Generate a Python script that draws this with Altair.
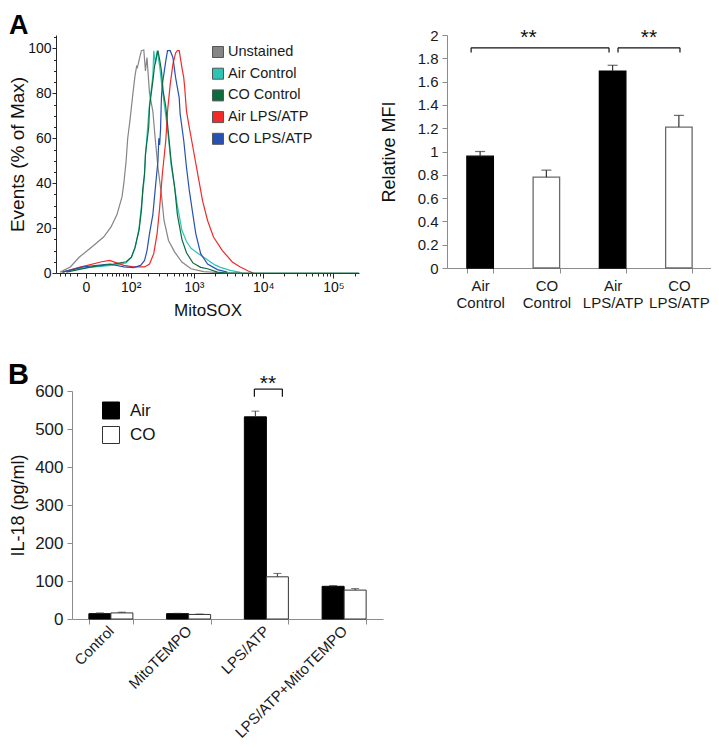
import altair as alt
import pandas as pd

FONT = "Liberation Sans"

# ---------------- Panel A (left): MitoSOX flow histograms ----------------
hist_names = ["Unstained", "Air Control", "CO Control", "Air LPS/ATP", "CO LPS/ATP"]
hist_colors = ["#858585", "#2CC5B5", "#0E6B3E", "#F22A2A", "#2651B3"]

unstained_x = [-40, -20, -7.5, 6, 23.5, 38, 53, 68, 74, 82, 88, 97, 110, 120, 128, 132, 145, 155, 170, 181, 192,
               211, 239, 262, 288, 326, 358, 419, 520, 667, 910, 1390, 2430, 5000]
unstained_y = [0.4, 2.7, 7, 11.5, 16, 20.4, 26, 34, 40, 50, 60, 68, 80, 88, 92, 91.5, 96, 99, 99.3, 90, 96,
               80, 72, 59, 47, 35, 23.4, 14.5, 9.3, 4.9, 1.9, 0.6, 0.1, 0]

air_ctrl_x = [-37.5, -7.5, 44, 82, 103, 120, 141, 155, 170, 181, 198, 211, 239, 247, 262, 279, 288, 306, 326,
              358, 381, 419, 459, 520, 571, 667, 780, 910, 1068, 1259, 1483, 1750, 2063, 2430, 3379, 4690]
air_ctrl_y = [0.4, 2, 3.5, 4.5, 7, 11, 20, 30, 40, 52, 66, 75, 88, 99, 93, 99, 97, 92, 85,
              76, 70, 60, 48, 38, 30, 19, 14, 11, 9.5, 7.9, 6.5, 4.9, 3.5, 2.5, 1.2, 0.3]

co_ctrl_x = [-27, 5.9, 44, 82, 103, 120, 141, 155, 164, 175, 181, 205, 211, 239, 254, 279, 288, 306, 326, 347,
             381, 419, 459, 520, 571, 667, 780, 969, 1259, 1585, 2203, 3000, 231000]
co_ctrl_y = [0.4, 2.7, 4, 5, 7, 11.5, 19, 28, 38, 44, 53, 65, 74, 85.6, 92, 97.5, 99, 95, 90, 81,
             74, 62, 50, 38, 26, 15, 9, 4.5, 2.5, 1.9, 0.4, 0, 0]

air_lps_x = [-34.5, -7.5, 20.6, 35, 74, 113, 175, 211, 247, 279, 306, 337, 381, 405, 445, 489, 537, 570, 608,
             667, 710, 733, 780, 856, 969, 1141, 1345, 1585, 1931, 2596, 3606, 4690, 6107, 7197]
air_lps_y = [0.4, 2.5, 5, 5.6, 3.4, 2.7, 2.7, 4, 8.6, 17.5, 29, 44, 59, 72, 84, 93, 98, 99, 99,
             91.5, 87, 82.7, 72, 65, 56, 44, 32, 23.4, 16, 10, 4.9, 2.7, 0.9, 0]

co_lps_x = [-34.5, -3, 35, 74, 113, 150, 175, 192, 211, 239, 262, 288, 297, 306, 316, 326, 337, 381, 405, 445,
            489, 537, 608, 627, 710, 780, 856, 969, 1068, 1259, 1585, 2203, 3060]
co_lps_y = [0.4, 2.7, 4, 2.7, 2.4, 3.4, 5.6, 10, 17.5, 26, 38, 50, 60, 57, 64, 78, 84, 94.5, 99, 99,
            96, 87, 78, 71, 59, 47, 37, 26, 17.5, 8.6, 4, 1.5, 0.4]

hist_series = [(hist_names[0], unstained_x, unstained_y),
               (hist_names[1], air_ctrl_x, air_ctrl_y),
               (hist_names[3], air_lps_x, air_lps_y),
               (hist_names[4], co_lps_x, co_lps_y),
               (hist_names[2], co_ctrl_x, co_ctrl_y)]

xtick_values = [0, 100, 1000, 10000, 100000]
xtick_labels = ["0", "10²", "10³", "10⁴", "10⁵"]
xminor_values = [-40, -30, -20, -10, 10, 20, 30, 40, 50, 60, 70, 80, 90,
                 200, 300, 400, 500, 600, 700, 800, 900,
                 2000, 3000, 4000, 5000, 6000, 7000, 8000, 9000,
                 20000, 30000, 40000, 50000, 60000, 70000, 80000, 90000, 200000]
ytick_values = [0, 20, 40, 60, 80, 100]
yminor_values = [5, 10, 15, 25, 30, 35, 45, 50, 55, 65, 70, 75, 85, 90, 95, 105]

# ---------------- Panel A (right): Relative MFI ----------------
mfi_cats = ["Air Control", "CO Control", "Air LPS/ATP", "CO LPS/ATP"]
mfi_gas = ["Air", "CO", "Air", "CO"]
mfi_vals = [0.96, 0.78, 1.69, 1.21]
mfi_errs = [0.04, 0.06, 0.05, 0.10]
mfi_ticks = [0, 0.2, 0.4, 0.6, 0.8, 1, 1.2, 1.4, 1.6, 1.8, 2]
mfi_sig_from = ["Air Control", "Air LPS/ATP"]
mfi_sig_to = ["Air LPS/ATP", "CO LPS/ATP"]
mfi_sig_star_at = ["CO Control", "CO LPS/ATP"]

# ---------------- Panel B: IL-18 ----------------
il_groups = ["Control", "MitoTEMPO", "LPS/ATP", "LPS/ATP+MitoTEMPO"]
il_air = [14, 14, 532, 86]
il_air_err = [2, 1, 15, 2]
il_co = [16, 12, 111, 76]
il_co_err = [2, 1, 9, 4]
il_ticks = [0, 100, 200, 300, 400, 500, 600]

# ======================================================================
hist_df = pd.concat([
    pd.DataFrame({"intensity": xs, "pct": ys, "sample": name, "idx": list(range(len(xs)))})
    for name, xs, ys in hist_series
], ignore_index=True)
legend_df = pd.DataFrame({"key": hist_names, "row": list(range(len(hist_names)))})

label_expr = " : ".join(
    [f"datum.value == {v} ? '{l}'" for v, l in zip(xtick_values[:-1], xtick_labels[:-1])]
) + f" : '{xtick_labels[-1]}'"

hx_scale = alt.Scale(type="symlog", constant=30, domain=[-50, 231000], nice=False, zero=False)
hy_scale = alt.Scale(domain=[0, 106], nice=False, zero=False)

AX_BLACK = "#262626"

hist_lines = alt.Chart(hist_df).mark_line(strokeWidth=1.2).encode(
    x=alt.X("intensity:Q", scale=hx_scale, title="MitoSOX", axis=alt.Axis(
        values=xtick_values, labelExpr=label_expr, grid=False,
        domainColor=AX_BLACK, tickColor=AX_BLACK, tickSize=5, labelFontSize=14, labelColor="#111",
        labelPadding=2, labelFlush=False, labelOverlap=False, titleFontSize=17, titleFontWeight="normal",
        titleColor="#111", titlePadding=8)),
    y=alt.Y("pct:Q", scale=hy_scale, title="Events (% of Max)", axis=alt.Axis(
        values=ytick_values, grid=False, domainColor=AX_BLACK,
        tickColor=AX_BLACK, tickSize=4, labelFontSize=14, labelColor="#111", labelPadding=1,
        labelFlush=False, labelOverlap=False, titleFontSize=19, titleFontWeight="normal",
        titleColor="#111", titlePadding=0)),
    stroke=alt.Stroke("sample:N", scale=alt.Scale(domain=hist_names, range=hist_colors), legend=None),
    order=alt.Order("idx:Q"),
)

hist_minor = alt.Chart(hist_df).mark_point(opacity=0).encode(
    x=alt.X("intensity:Q", scale=hx_scale, axis=alt.Axis(
        orient="bottom", values=xminor_values, labels=False, tickSize=3, domain=False, grid=False,
        tickColor=AX_BLACK, title=None)),
    y=alt.Y("pct:Q", scale=hy_scale, axis=alt.Axis(
        orient="left", values=yminor_values, labels=False, tickSize=2.5, domain=False, grid=False,
        tickColor=AX_BLACK, title=None)),
)

# legend of the histogram: coloured squares + names, one row per sample
leg_base = alt.Chart(legend_df).transform_calculate(ly="17 + 21.7 * datum.row")
hist_leg_sq = leg_base.mark_square(size=121, stroke="#555555", strokeWidth=1, opacity=1).encode(
    x=alt.value(162),
    y=alt.Y("ly:Q", scale=None, axis=None),
    fill=alt.Fill("key:N", scale=alt.Scale(domain=hist_names, range=hist_colors), legend=None),
)
hist_leg_tx = leg_base.mark_text(align="left", baseline="middle", fontSize=14.5, color="#1a1a1a").encode(
    x=alt.value(172),
    y=alt.Y("ly:Q", scale=None, axis=None),
    text="key:N",
)

label_a = alt.Chart(pd.DataFrame({"t": ["A"]})).mark_text(
    align="left", baseline="top", fontSize=27, fontWeight="bold", color="#000"
).encode(text="t:N", x=alt.value(-47), y=alt.value(-22))

hist_chart = alt.layer(hist_lines, hist_minor, hist_leg_sq, hist_leg_tx, label_a).resolve_axis(
    x="independent", y="independent"
).properties(width=303, height=238)

# ---------------- MFI bar chart ----------------
mfi_df = pd.DataFrame({"cat": mfi_cats, "val": mfi_vals, "err": mfi_errs, "gas": mfi_gas})
ax_scale = alt.Scale(domain=mfi_cats, paddingInner=0.6, paddingOuter=0.3)
ay_scale = alt.Scale(domain=[0, 2], nice=False)
AX_GRAY = "#8c8c8c"

ax_axis = alt.Axis(
    title=None, labelAngle=0, labelExpr="split(datum.label, ' ')", tickBand="extent",
    domainColor=AX_GRAY, tickColor=AX_GRAY, tickSize=5, labelFontSize=15, labelColor="#1a1a1a",
    labelLineHeight=17, labelPadding=5, labelBaseline="top", labelOverlap=False)
ay_axis = alt.Axis(
    title="Relative MFI", values=mfi_ticks, format=".1~f",
    grid=False, domainColor=AX_GRAY, tickColor=AX_GRAY, tickSize=5, labelFontSize=15,
    labelColor="#1a1a1a", labelPadding=4, labelFlush=False, labelOverlap=False, titleFontSize=18,
    titleFontWeight="normal", titleColor="#111", titlePadding=19)

def ax(field):
    return alt.X(field, scale=ax_scale, axis=ax_axis)

def ay(field):
    return alt.Y(field, scale=ay_scale, axis=ay_axis)

mfi_base = alt.Chart(mfi_df)
mfi_bars = mfi_base.mark_bar(strokeWidth=1.3).encode(
    x=ax("cat:N"), y=ay("val:Q"),
    fill=alt.Fill("gas:N", scale=alt.Scale(domain=["Air", "CO"], range=["#000000", "#ffffff"]), legend=None),
    stroke=alt.Stroke("gas:N", scale=alt.Scale(domain=["Air", "CO"], range=["#000000", "#6a6a6a"]), legend=None),
)
mfi_err = mfi_base.transform_calculate(top="datum.val + datum.err").mark_rule(
    color="#333", strokeWidth=1.2).encode(x=ax("cat:N"), y=ay("val:Q"), y2="top:Q")
mfi_cap = mfi_base.transform_calculate(top="datum.val + datum.err").mark_tick(
    color="#333", thickness=1.2, size=10).encode(x=ax("cat:N"), y=ay("top:Q"))

mfi_layers = [mfi_bars, mfi_err, mfi_cap]
sig_offsets = [(-9, -3.6, -18), (5.4, 1.1, -30)]
for i in range(len(mfi_sig_from)):
    sdf = pd.DataFrame({"cat": [mfi_sig_from[i]], "cat2": [mfi_sig_to[i]], "star": [mfi_sig_star_at[i]],
                        "y": [1.89], "leg": [1.85], "ty": [1.92], "label": ["**"]})
    o1, o2, ot = sig_offsets[i]
    sb = alt.Chart(sdf)
    mfi_layers.append(sb.mark_rule(color="#111", strokeWidth=1.2, xOffset=o1, x2Offset=o2).encode(
        x=ax("cat:N"), x2="cat2:N", y=ay("y:Q")))
    mfi_layers.append(sb.mark_rule(color="#111", strokeWidth=1.2, xOffset=o1).encode(
        x=ax("cat:N"), y=ay("leg:Q"), y2="y:Q"))
    mfi_layers.append(sb.mark_rule(color="#111", strokeWidth=1.2, xOffset=o2).encode(
        x=ax("cat2:N"), y=ay("leg:Q"), y2="y:Q"))
    mfi_layers.append(sb.mark_text(fontSize=21, baseline="alphabetic", xOffset=ot, color="#111").encode(
        x=ax("star:N"), y=ay("ty:Q"), text="label:N"))

mfi_chart = alt.layer(*mfi_layers).properties(width=265, height=233)

top_row = alt.hconcat(hist_chart, mfi_chart, spacing=88, bounds="flush").resolve_scale(
    fill="independent", stroke="independent")

# ---------------- IL-18 chart ----------------
il_df = pd.concat([
    pd.DataFrame({"treatment": il_groups, "gas": "Air", "val": il_air, "err": il_air_err}),
    pd.DataFrame({"treatment": il_groups, "gas": "CO", "val": il_co, "err": il_co_err}),
], ignore_index=True)

bx_scale = alt.Scale(domain=il_groups, paddingInner=0.434, paddingOuter=0.217)
by_scale = alt.Scale(domain=[0, 600], nice=False)
bo_scale = alt.Scale(domain=["Air", "CO"], paddingInner=0, paddingOuter=0)

bx_axis = alt.Axis(
    title=None, labelAngle=-45, labelAlign="right", labelBaseline="middle", tickBand="extent",
    domainColor=AX_GRAY, tickColor=AX_GRAY, tickSize=5, labelFontSize=15, labelColor="#1a1a1a",
    labelPadding=4, labelOverlap=False)
by_axis = alt.Axis(
    title="IL-18 (pg/ml)", values=il_ticks, grid=False,
    domainColor=AX_GRAY, tickColor=AX_GRAY, tickSize=5, labelFontSize=17, labelColor="#1a1a1a",
    labelPadding=4, labelFlush=False, labelOverlap=False, titleFontSize=18, titleFontWeight="normal",
    titleColor="#111", titlePadding=7)

def bx(field):
    return alt.X(field, scale=bx_scale, axis=bx_axis)

def by(field):
    return alt.Y(field, scale=by_scale, axis=by_axis)

il_base = alt.Chart(il_df)
il_bars = il_base.mark_bar(strokeWidth=1).encode(
    x=bx("treatment:N"),
    xOffset=alt.XOffset("gas:N", scale=bo_scale),
    y=by("val:Q"),
    fill=alt.Fill("gas:N", scale=alt.Scale(domain=["Air", "CO"], range=["#000000", "#ffffff"]),
                  legend=alt.Legend(orient="none", legendX=30, legendY=10.5, title=None, symbolType="square",
                                    symbolSize=289, symbolStrokeColor="#000000", symbolStrokeWidth=1,
                                    symbolOpacity=1, labelFontSize=17, labelColor="#111", labelOffset=10,
                                    rowPadding=2.5, labelFont=FONT)),
    stroke=alt.Stroke("gas:N", scale=alt.Scale(domain=["Air", "CO"], range=["#000000", "#333333"]), legend=None),
)
il_err = il_base.transform_calculate(top="datum.val + datum.err").mark_rule(
    color="#333", strokeWidth=1).encode(
    x=bx("treatment:N"), xOffset=alt.XOffset("gas:N", scale=bo_scale), y=by("val:Q"), y2="top:Q")
il_cap = il_base.transform_calculate(top="datum.val + datum.err").mark_tick(
    color="#333", thickness=1, size=8).encode(
    x=bx("treatment:N"), xOffset=alt.XOffset("gas:N", scale=bo_scale), y=by("top:Q"))

il_sig = pd.DataFrame({"treatment": ["LPS/ATP"], "y": [605], "leg": [585], "ty": [603], "label": ["**"]})
sib = alt.Chart(il_sig)
il_br_h = sib.mark_rule(color="#111", strokeWidth=1.2, xOffset=-12, x2Offset=16).encode(
    x=bx("treatment:N"), x2="treatment:N", y=by("y:Q"))
il_br_l = sib.mark_rule(color="#111", strokeWidth=1.2, xOffset=-12).encode(
    x=bx("treatment:N"), y=by("leg:Q"), y2="y:Q")
il_br_r = sib.mark_rule(color="#111", strokeWidth=1.2, xOffset=16).encode(
    x=bx("treatment:N"), y=by("leg:Q"), y2="y:Q")
il_star = sib.mark_text(fontSize=21, baseline="alphabetic", xOffset=1.5, color="#111").encode(
    x=bx("treatment:N"), y=by("ty:Q"), text="label:N")

label_b = alt.Chart(pd.DataFrame({"t": ["B"]})).mark_text(
    align="left", baseline="top", fontSize=29, fontWeight="bold", color="#000"
).encode(text="t:N", x=alt.value(-64), y=alt.value(-30))

il_chart = alt.layer(il_bars, il_err, il_cap, il_br_h, il_br_l, il_br_r, il_star, label_b).properties(
    width=311, height=228)

# invisible spacer that shifts panel B's plot to the right of panel A's plot
spacer = alt.Chart(pd.DataFrame({"v": [0]})).mark_point(opacity=0).encode(
    x=alt.value(0), y=alt.value(0)).properties(width=16, height=228)

bottom_row = alt.hconcat(spacer, il_chart, spacing=0, bounds="flush").resolve_scale(
    fill="independent", stroke="independent")

chart = alt.vconcat(top_row, bottom_row, spacing=356, bounds="flush").resolve_scale(
    fill="independent", stroke="independent"
).properties(
    autosize=alt.AutoSizeParams(type="none"),
    padding={"left": 48, "top": 27, "right": 655, "bottom": 705}
).configure(font=FONT).configure_view(stroke=None).configure_axis(grid=False)

chart.save("out.html", embed_options={"renderer": "svg", "actions": False})
